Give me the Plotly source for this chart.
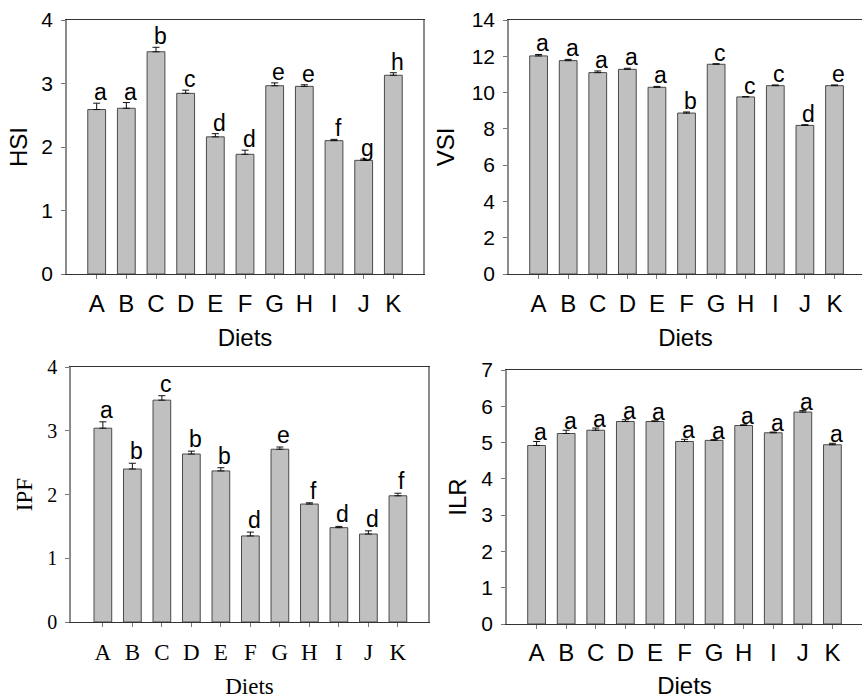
import plotly.graph_objects as go

# Diet groups
diets = ["A", "B", "C", "D", "E", "F", "G", "H", "I", "J", "K"]

# Hepatosomatic index
hsi_mean = [2.59, 2.61, 3.50, 2.845, 2.16, 1.885, 2.965, 2.955, 2.10, 1.79, 3.13]
hsi_err = [0.10, 0.09, 0.07, 0.05, 0.05, 0.065, 0.045, 0.025, 0.02, 0.02, 0.04]
hsi_sig = ["a", "a", "b", "c", "d", "d", "e", "e", "f", "g", "h"]

# Viscerosomatic index
vsi_mean = [12.02, 11.76, 11.10, 11.28, 10.29, 8.87, 11.56, 9.76, 10.38, 8.19, 10.38]
vsi_err = [0.08, 0.07, 0.09, 0.06, 0.05, 0.06, 0.03, 0.02, 0.04, 0.04, 0.04]
vsi_sig = ["a", "a", "a", "a", "a", "b", "c", "c", "c", "d", "e"]

# Intraperitoneal fat
ipf_mean = [3.04, 2.40, 3.48, 2.635, 2.37, 1.35, 2.71, 1.85, 1.48, 1.38, 1.98]
ipf_err = [0.10, 0.09, 0.07, 0.045, 0.05, 0.06, 0.035, 0.02, 0.02, 0.05, 0.04]
ipf_sig = ["a", "b", "c", "b", "b", "d", "e", "f", "d", "d", "f"]

# Intestine length ratio
ilr_mean = [4.92, 5.25, 5.34, 5.58, 5.58, 5.03, 5.06, 5.47, 5.27, 5.84, 4.94]
ilr_err = [0.11, 0.09, 0.06, 0.05, 0.02, 0.06, 0.02, 0.02, 0.02, 0.04, 0.04]
ilr_sig = ["a"] * 11

W, H = 862, 699
SANS = "Liberation Sans, Arial, sans-serif"
SERIF = "Liberation Serif, Times New Roman, serif"
BAR_FILL = "#c0c0c0"
BAR_EDGE = "#4a4a4a"
XLINE = "#333333"
YLINE = "#8c8c8c"


def px_x(a, b):
    return [a / W, min(b / W, 1.0)]


def px_y(top, bottom):
    return [1 - bottom / H, 1 - top / H]


panels = [
    dict(m=hsi_mean, e=hsi_err, s=hsi_sig, t="HSI", ymax=4, dt=1,
         xd=px_x(67, 423), yd=px_y(20, 274), font=SANS, xr=[-1, 11], my=True,
         shift=-4, xfs=24, yfs=21, tfs=24, ystand=7, xstand=4, xtstand=13),
    dict(m=vsi_mean, e=vsi_err, s=vsi_sig, t="VSI", ymax=14, dt=2,
         xd=px_x(509, 862), yd=px_y(20, 274), font=SANS, xr=[-1, 10.93], my=False,
         shift=-4, xfs=24, yfs=21, tfs=24, ystand=10, xstand=4, xtstand=13),
    dict(m=ipf_mean, e=ipf_err, s=ipf_sig, t="IPF", ymax=4, dt=1,
         xd=px_x(71, 428), yd=px_y(367, 622), font=SERIF, xr=[-1.08, 11.02], my=True,
         shift=-3, xfs=23, yfs=20, tfs=23, ystand=8, xstand=5, xtstand=20),
    dict(m=ilr_mean, e=ilr_err, s=ilr_sig, t="ILR", ymax=7, dt=1,
         xd=px_x(507, 862), yd=px_y(370, 624), font=SANS, xr=[-1, 11], my=False,
         shift=-6, xfs=24, yfs=21, tfs=24, ystand=8, xstand=3, xtstand=18),
]

fig = go.Figure()
annotations = []
layout = {}

for i, p in enumerate(panels, start=1):
    xa = "x" if i == 1 else f"x{i}"
    ya = "y" if i == 1 else f"y{i}"
    xkey = "xaxis" if i == 1 else f"xaxis{i}"
    ykey = "yaxis" if i == 1 else f"yaxis{i}"

    fig.add_trace(go.Bar(
        x=list(range(len(diets))), y=p["m"], xaxis=xa, yaxis=ya,
        width=0.6,
        marker=dict(color=BAR_FILL, line=dict(color=BAR_EDGE, width=1)),
        error_y=dict(type="data", array=p["e"], arrayminus=[0] * len(diets),
                     symmetric=False, color="#111111", thickness=1, width=3.5),
        showlegend=False, hoverinfo="skip",
    ))

    layout[xkey] = dict(
        domain=p["xd"], anchor=ya, range=p["xr"], automargin=False,
        tickmode="array", tickvals=list(range(len(diets))), ticktext=diets,
        ticks="outside", ticklen=4, tickwidth=1, tickcolor="#777777",
        ticklabelstandoff=p["xstand"],
        showline=True, linecolor=XLINE, linewidth=1, mirror=True,
        showgrid=False, zeroline=False,
        tickfont=dict(family=p["font"], size=p["xfs"], color="#000000"),
        title=dict(text="Diets", standoff=p["xtstand"],
                   font=dict(family=p["font"], size=p["tfs"], color="#000000")),
    )
    layout[ykey] = dict(
        domain=p["yd"], anchor=xa, range=[0, p["ymax"]], dtick=p["dt"],
        automargin=False,
        ticks="outside", ticklen=4, tickwidth=1, tickcolor="#777777",
        ticklabelstandoff=4,
        showline=True, linecolor=YLINE, linewidth=1.5, mirror=p["my"],
        showgrid=False, zeroline=False,
        tickfont=dict(family=p["font"], size=p["yfs"], color="#000000"),
        title=dict(text=p["t"], standoff=p["ystand"],
                   font=dict(family=p["font"], size=p["tfs"], color="#000000")),
    )

    for j, (m, e, s) in enumerate(zip(p["m"], p["e"], p["s"])):
        annotations.append(dict(
            x=j, y=m + e, xref=xa, yref=ya, text=s, showarrow=False,
            xanchor="center", yanchor="bottom", xshift=4, yshift=p["shift"],
            font=dict(family=SANS, size=23, color="#000000"),
        ))

fig.update_layout(
    width=W, height=H,
    margin=dict(l=0, r=0, t=0, b=0),
    paper_bgcolor="white", plot_bgcolor="white",
    bargap=0.4,
    annotations=annotations,
    **layout,
)

fig.write_html("out.html")
